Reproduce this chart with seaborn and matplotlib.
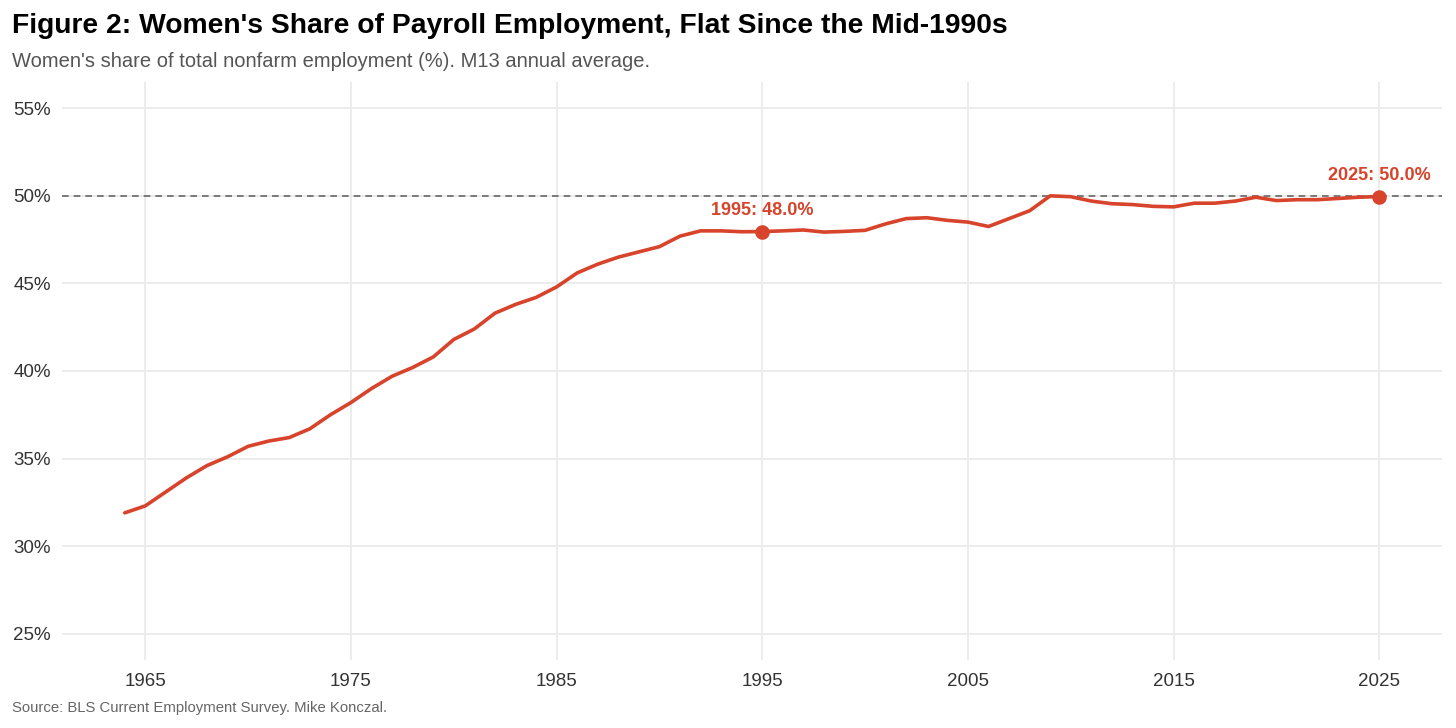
import matplotlib
matplotlib.use("Agg")
import matplotlib.pyplot as plt
import seaborn as sns
import pandas as pd
from matplotlib.ticker import FuncFormatter

# Women's share of total nonfarm employment, annual average (%)
years = list(range(1964, 2026))
share = [
    31.9, 32.3, 33.1, 33.9, 34.6, 35.1, 35.7, 36.0, 36.2, 36.7,
    37.5, 38.2, 39.0, 39.7, 40.2, 40.8, 41.8, 42.4, 43.3, 43.8,
    44.2, 44.8, 45.6, 46.1, 46.5, 46.8, 47.1, 47.7, 48.0, 48.0,
    47.95, 47.96, 48.0, 48.05, 47.93, 47.97, 48.03, 48.4, 48.7, 48.75,
    48.6, 48.5, 48.25, 48.7, 49.15, 50.0, 49.95, 49.7, 49.55, 49.5,
    49.4, 49.37, 49.58, 49.58, 49.7, 49.92, 49.73, 49.78, 49.78, 49.85,
    49.92, 49.96,
]
highlight_years = [1995, 2025]
x_ticks = [1965, 1975, 1985, 1995, 2005, 2015, 2025]
y_ticks = [25, 30, 35, 40, 45, 50, 55]

df = pd.DataFrame({"year": years, "share": share})
red = "#D7432B"

sns.set_theme(style="whitegrid")
plt.rcParams["font.family"] = ["Liberation Sans", "DejaVu Sans"]

fig = plt.figure(figsize=(14.56, 7.28), dpi=100)
ax = fig.add_axes([0.0426, 0.0934, 0.9478, 0.794])

ax.axhline(50, color="#666666", linestyle=(0, (4, 3)), linewidth=1.2, zorder=1)
sns.lineplot(data=df, x="year", y="share", color=red, linewidth=2.6, ax=ax, zorder=3)

hl = df[df["year"].isin(highlight_years)]
sns.scatterplot(data=hl, x="year", y="share", color=red, s=110, edgecolor=red,
                linewidth=0, ax=ax, zorder=4)
for _, r in hl.iterrows():
    ax.annotate(f"{int(r['year'])}: {r['share']:.1f}%", (r["year"], r["share"]),
                xytext=(0, 9), textcoords="offset points", ha="center", va="bottom",
                color=red, fontsize=13, fontweight="bold")

ax.set_xlim(1960.95, 2028.05)
ax.set_ylim(23.5, 56.5)
ax.set_xticks(x_ticks)
ax.set_yticks(y_ticks)
ax.yaxis.set_major_formatter(FuncFormatter(lambda v, _: f"{v:.0f}%"))
ax.set_xlabel("")
ax.set_ylabel("")
ax.grid(True, color="#EBEBEB", linewidth=1.3)
for s in ax.spines.values():
    s.set_visible(False)
ax.tick_params(axis="both", length=0, labelsize=13.5, labelcolor="#333333")
ax.tick_params(axis="y", pad=8)
ax.tick_params(axis="x", pad=9)

fig.text(0.0082, 0.955, "Figure 2: Women's Share of Payroll Employment, Flat Since the Mid-1990s",
         fontsize=20.3, fontweight="bold", color="black", va="baseline")
fig.text(0.0082, 0.908, "Women's share of total nonfarm employment (%). M13 annual average.",
         fontsize=14.5, color="#555555", va="baseline")
fig.text(0.0082, 0.022, "Source: BLS Current Employment Survey. Mike Konczal.",
         fontsize=10.75, color="#666666", va="baseline")

fig.savefig("out.png", dpi=100)
